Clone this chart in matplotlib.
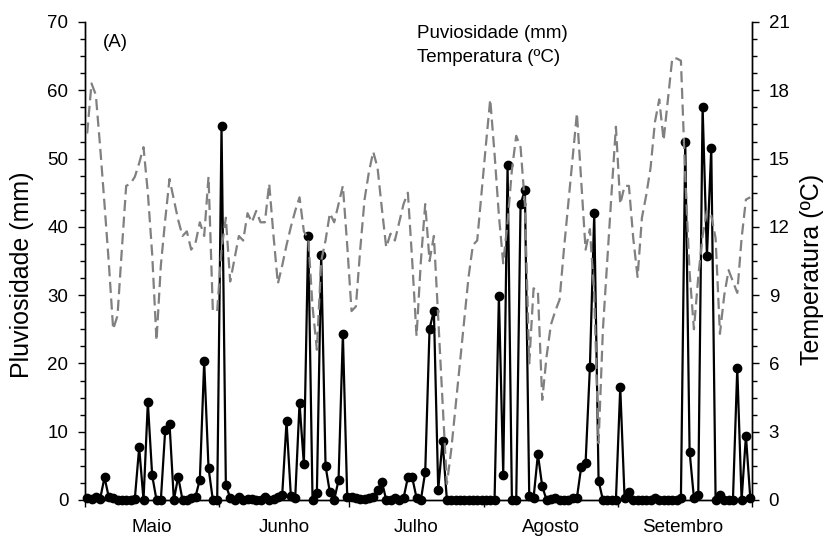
import numpy as np
import matplotlib
matplotlib.use("Agg")
import matplotlib.pyplot as plt
from matplotlib.ticker import MultipleLocator, FixedLocator, NullFormatter

plt.rcParams['font.family'] = ['Liberation Sans', 'DejaVu Sans']

# Daily rainfall (mm), May 1 .. Oct 1
rain = [
    0.3, 0.2, 0.4, 0.2, 3.3, 0.4, 0.3, 0.0, 0.0, 0.0,
    0.0, 0.2, 7.7, 0.0, 14.3, 3.6, 0.0, 0.0, 10.2, 11.2,
    0.0, 3.4, 0.0, 0.0, 0.3, 0.5, 3.0, 20.3, 4.7, 0.0,
    0.0, 54.7, 2.2, 0.3, 0.0, 0.4, 0.0, 0.2, 0.2, 0.0,
    0.0, 0.4, 0.0, 0.2, 0.4, 0.7, 11.5, 0.6, 0.3, 14.2,
    5.2, 38.7, 0.0, 1.0, 35.9, 5.0, 1.1, 0.0, 2.9, 24.3,
    0.5, 0.5, 0.3, 0.1, 0.2, 0.3, 0.5, 1.4, 2.7, 0.0,
    0.0, 0.3, 0.0, 0.3, 3.3, 3.3, 0.3, 0.0, 4.1, 25.1,
    27.7, 1.5, 8.7, 0.0, 0.0, 0.0, 0.0, 0.0, 0.0, 0.0,
    0.0, 0.0, 0.0, 0.0, 0.0, 29.9, 3.7, 49.0, 0.0, 0.0,
    43.3, 45.4, 0.6, 0.3, 6.7, 2.0, 0.0, 0.2, 0.3, 0.0,
    0.0, 0.0, 0.3, 0.3, 4.9, 5.4, 19.5, 42.0, 2.8, 0.0,
    0.0, 0.0, 0.0, 16.5, 0.3, 1.1, 0.0, 0.0, 0.0, 0.0,
    0.0, 0.3, 0.0, 0.0, 0.0, 0.0, 0.0, 0.3, 52.4, 7.1,
    0.3, 0.8, 57.6, 35.7, 51.6, 0.0, 0.8, 0.0, 0.0, 0.0,
    19.3, 0.0, 9.4, 0.3,
]

# Daily mean temperature (ºC)
temp = [
    16.1, 18.3, 17.8, 15.5, 13.0, 10.4, 7.5, 8.1, 11.0, 13.8,
    13.9, 14.2, 14.8, 15.5, 13.5, 10.8, 7.0, 10.3, 12.3, 14.1,
    13.2, 12.3, 11.6, 11.8, 11.0, 11.3, 12.2, 11.6, 14.2, 8.3,
    8.3, 11.0, 12.4, 9.6, 10.6, 11.6, 11.4, 12.6, 12.2, 12.7,
    12.2, 12.2, 13.9, 11.6, 9.5, 10.3, 11.2, 12.0, 12.7, 13.3,
    11.8, 11.5, 8.5, 6.6, 10.5, 11.4, 12.6, 12.2, 13.0, 13.8,
    11.2, 8.3, 8.5, 11.0, 13.2, 14.4, 15.3, 14.6, 12.8, 11.1,
    11.7, 11.4, 12.2, 13.0, 13.5, 10.5, 7.2, 10.5, 13.0, 10.5,
    11.6, 8.0, 4.3, 0.7, 2.2, 4.1, 6.0, 7.9, 9.8, 11.2,
    11.4, 13.5, 15.6, 17.6, 15.2, 12.5, 10.4, 12.2, 14.5, 16.0,
    15.5, 13.0, 6.0, 9.3, 9.2, 4.4, 6.3, 7.7, 8.3, 8.8,
    11.0, 13.0, 15.0, 17.0, 14.0, 11.0, 11.9, 9.0, 2.5, 7.5,
    10.5, 13.5, 16.4, 13.0, 13.8, 13.8, 11.5, 9.8, 12.4, 13.4,
    14.6, 16.6, 17.6, 15.8, 17.6, 19.4, 19.4, 19.3, 14.2, 10.0,
    7.5, 9.8, 11.6, 12.7, 12.5, 11.5, 7.3, 9.0, 10.1, 9.6,
    9.1, 11.5, 13.2, 13.3,
]

months = ['Maio', 'Junho', 'Julho', 'Agosto', 'Setembro']
month_days = [31, 30, 31, 31, 30]

days = np.arange(len(rain))
bounds = np.concatenate([[0], np.cumsum(month_days)]) - 0.5
mids = (bounds[:-1] + bounds[1:]) / 2

fig = plt.figure(figsize=(8.32, 5.37), dpi=100)
ax = fig.add_axes([85/832, 37/537, 667/832, 478/537])

ax.plot(days, rain, color='black', lw=1.6, marker='o', ms=6,
        clip_on=False, zorder=3)
ax.set_xlim(-0.5, 153.4)
ax.set_ylim(0, 70)
ax.yaxis.set_major_locator(MultipleLocator(10))
ax.yaxis.set_minor_locator(MultipleLocator(2.5))

ax2 = ax.twinx()
ax2.plot(days, temp, color='#808080', lw=1.6, dashes=(5, 2.5), zorder=4)
ax2.set_ylim(0, 21)
ax2.yaxis.set_major_locator(MultipleLocator(3))
ax2.yaxis.set_minor_locator(MultipleLocator(0.75))

ax.xaxis.set_major_locator(FixedLocator(list(bounds[:-1]) + [153.4]))
ax.xaxis.set_major_formatter(NullFormatter())
ax.xaxis.set_minor_locator(FixedLocator(mids))
ax.set_xticklabels(months, minor=True)
ax.tick_params(axis='x', which='minor', length=0, pad=14, labelsize=13.5)
ax.tick_params(axis='x', which='major', length=5, width=1, direction='out')

ax.tick_params(axis='y', which='major', length=5, width=1, direction='out',
               labelsize=13.5, pad=7)
ax.tick_params(axis='y', which='minor', length=3.5, width=1, direction='out')
ax2.tick_params(axis='y', which='major', length=5, width=1, direction='out',
                labelsize=13.5, pad=7)
ax2.tick_params(axis='y', which='minor', length=3.5, width=1, direction='out')

for a in (ax, ax2):
    a.spines['top'].set_visible(False)
    for s in ('left', 'right', 'bottom'):
        a.spines[s].set_linewidth(1)

fig.text(22/832, 1 - 275/537, 'Pluviosidade (mm)', rotation=90,
         ha='center', va='center', fontsize=18)
fig.text(812/832, 1 - 269/537, 'Temperatura (ºC)', rotation=90,
         ha='center', va='center', fontsize=18)

ax.text(0.027, 0.958, '(A)', transform=ax.transAxes, fontsize=13.5,
        ha='left', va='center')
ax.text(0.498, 0.975, 'Puviosidade (mm)', transform=ax.transAxes,
        fontsize=13.5, ha='left', va='center')
ax.text(0.498, 0.925, 'Temperatura (ºC)', transform=ax.transAxes,
        fontsize=13.5, ha='left', va='center')

fig.savefig('out.png', dpi=100)
